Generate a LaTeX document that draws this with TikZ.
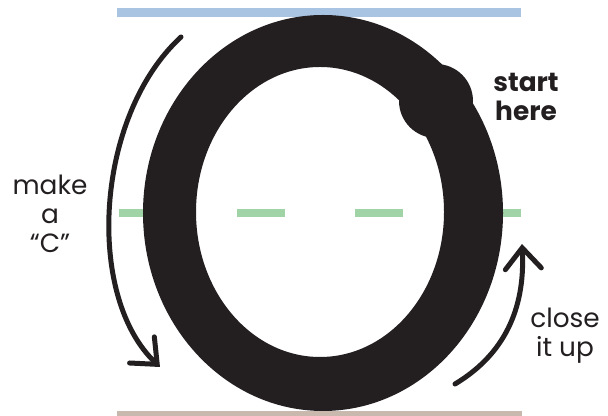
\documentclass[tikz,border=0pt]{standalone}
\usepackage{fontspec}
\setmainfont{Poppins}
\usepackage{tikz}
\usetikzlibrary{positioning,arrows.meta}
\definecolor{InkBlack}{RGB}{35,31,32}
\definecolor{TopBlue}{RGB}{168,196,226}
\definecolor{MidGreen}{RGB}{160,212,166}
\definecolor{BaseTan}{RGB}{200,184,174}

\tikzset{
  guide/.style={line width=0.18cm},
  turnarrow/.style={color=InkBlack, line width=0.1cm, line cap=round,
    -{Straight Barb[length=0.42cm,width=0.72cm,line cap=round]}},
  hint/.style={color=InkBlack, align=center, font=\fontsize{15}{16.5}\selectfont}
}

\begin{document}
\begin{tikzpicture}
    \useasboundingbox (0,0) rectangle (12.16,8.32);
    % guide lines
    \draw[guide, color=TopBlue] (2.34,8.07) -- (10.42,8.07);
    \draw[guide, color=MidGreen, line width=0.16cm, dash pattern=on 0.96cm off 1.40cm] (2.38,4.06) -- (10.42,4.06);
    \draw[guide, color=BaseTan] (2.34,0) -- (10.44,0);
    % the letter O
    \fill[InkBlack, even odd rule] (6.46,4.06) ellipse [x radius=3.60, y radius=3.96]
                                   (6.40,4.08) ellipse [x radius=2.48, y radius=2.90];
    \fill[InkBlack] (8.72,6.30) circle (0.74);
    % strokes
    \coordinate (leftfrom) at (3.62,7.58);
    \coordinate (leftto) at (3.20,0.98);
    \coordinate (rightfrom) at (9.10,0.64);
    \coordinate (rightto) at (10.44,3.44);
    \draw[turnarrow] (leftfrom) .. controls (1.9,6.0) and (1.7,2.4) .. (leftto);
    \draw[turnarrow] (rightfrom) .. controls (10.2,1.3) and (10.5,2.3) .. (rightto);
    % labels
    \node[hint] (makec) at (1.00,4.04) {make\\a\\“C”};
    \node[hint, font=\fontsize{15}{16.5}\selectfont\bfseries] (starthere) at (10.52,6.38) {start\\here};
    \node[hint] (closeup) at (11.30,1.60) {close\\it up};
  \end{tikzpicture}
\end{document}
